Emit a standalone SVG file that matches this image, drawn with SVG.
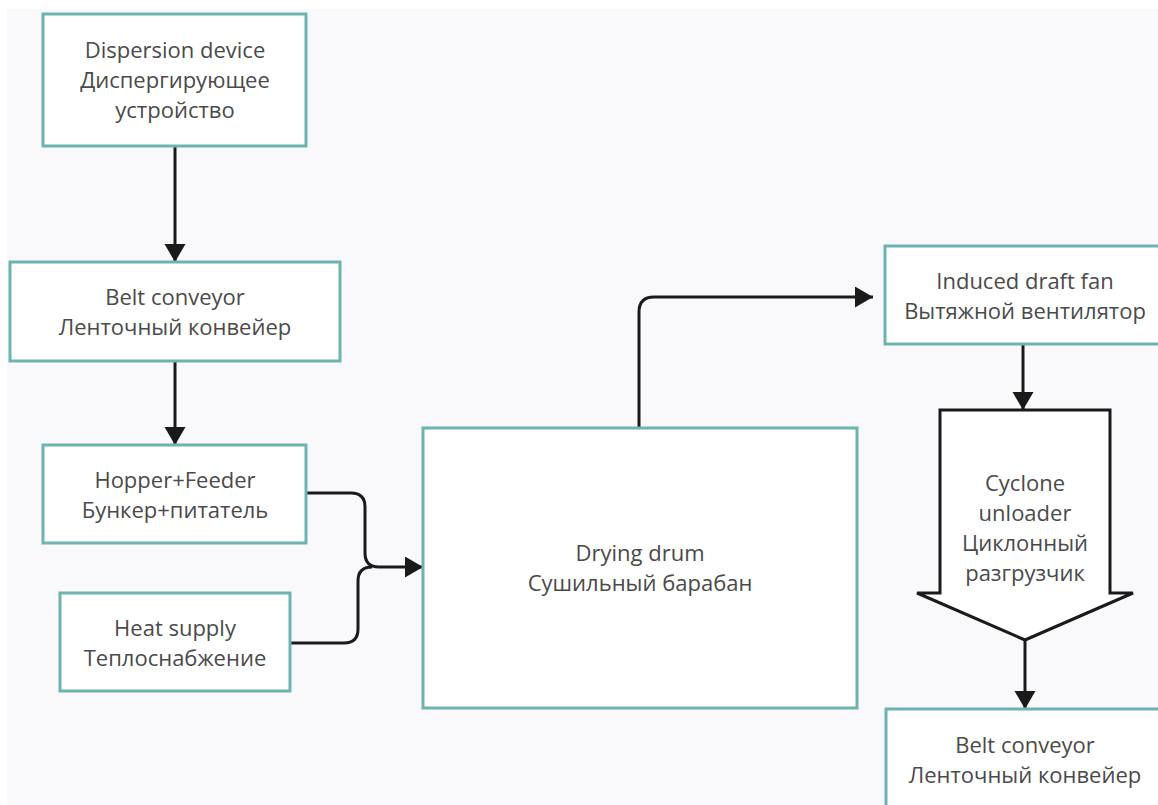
<svg xmlns="http://www.w3.org/2000/svg" width="1158" height="805" viewBox="0 0 1158 805">
<style>
.node{fill:#ffffff;stroke:#6db3b1;stroke-width:3}
.shape{fill:#ffffff;stroke:#1a1a1a;stroke-width:3;stroke-linejoin:miter}
.lbl{font-family:"Open Sans","Noto Sans","Liberation Sans",sans-serif;font-size:22px;fill:#4a4a4a;text-anchor:middle;dominant-baseline:central}
.edge{fill:none;stroke:#1a1a1a;stroke-width:3}
</style>
<defs>
<marker id="arr" markerUnits="userSpaceOnUse" markerWidth="19" markerHeight="22" refX="18" refY="10.5" orient="auto">
<path d="M0,0 L18,10.5 L0,21 z" fill="#1a1a1a"/>
</marker>
</defs>
<rect x="0" y="0" width="1158" height="805" fill="#ffffff"/>
<rect x="7" y="9" width="1151" height="796" fill="#f9f9fb"/>
<g id="connectors">
<path class="edge" d="M175,146 V262" marker-end="url(#arr)"/>
<path class="edge" d="M175,361 V445" marker-end="url(#arr)"/>
<path class="edge" d="M306,493 H351 Q365,493 365,507 V553 Q365,567 379,567 H423" marker-end="url(#arr)"/>
<path class="edge" d="M290,643 H344 Q358,643 358,629 V581 Q358,567 372,567"/>
<path class="edge" d="M639,428 V312 Q639,297 654,297 H873" marker-end="url(#arr)"/>
<path class="edge" d="M1023,344 V410" marker-end="url(#arr)"/>
<path class="edge" d="M1025,640 V709" marker-end="url(#arr)"/>
</g>
<g id="dispersion">
<rect class="node" x="43" y="14" width="263" height="132"/>
<text class="lbl" x="175" y="49">Dispersion device</text>
<text class="lbl" x="175" y="79">Диспергирующее</text>
<text class="lbl" x="175" y="109">устройство</text>
</g>
<g id="belt1">
<rect class="node" x="10" y="262" width="330" height="99"/>
<text class="lbl" x="175" y="296">Belt conveyor</text>
<text class="lbl" x="175" y="326">Ленточный конвейер</text>
</g>
<g id="hopper">
<rect class="node" x="43" y="445" width="263" height="98"/>
<text class="lbl" x="175" y="479">Hopper+Feeder</text>
<text class="lbl" x="175" y="509">Бункер+питатель</text>
</g>
<g id="heat">
<rect class="node" x="60" y="593" width="230" height="98"/>
<text class="lbl" x="175" y="627">Heat supply</text>
<text class="lbl" x="175" y="657">Теплоснабжение</text>
</g>
<g id="drum">
<rect class="node" x="423" y="428" width="434" height="280"/>
<text class="lbl" x="640" y="552">Drying drum</text>
<text class="lbl" x="640" y="582">Сушильный барабан</text>
</g>
<g id="fan">
<rect class="node" x="885" y="246" width="282" height="98"/>
<text class="lbl" x="1025" y="280">Induced draft fan</text>
<text class="lbl" x="1025" y="310">Вытяжной вентилятор</text>
</g>
<g id="cyclone">
<path class="shape" d="M940,410 H1110 V593 H1133 L1025,640 L917,593 H940 Z"/>
<text class="lbl" x="1025" y="482">Cyclone</text>
<text class="lbl" x="1025" y="512">unloader</text>
<text class="lbl" x="1025" y="542">Циклонный</text>
<text class="lbl" x="1025" y="572">разгрузчик</text>
</g>
<g id="belt2">
<rect class="node" x="886" y="709" width="280" height="110"/>
<text class="lbl" x="1025" y="744">Belt conveyor</text>
<text class="lbl" x="1025" y="774">Ленточный конвейер</text>
</g>
</svg>
